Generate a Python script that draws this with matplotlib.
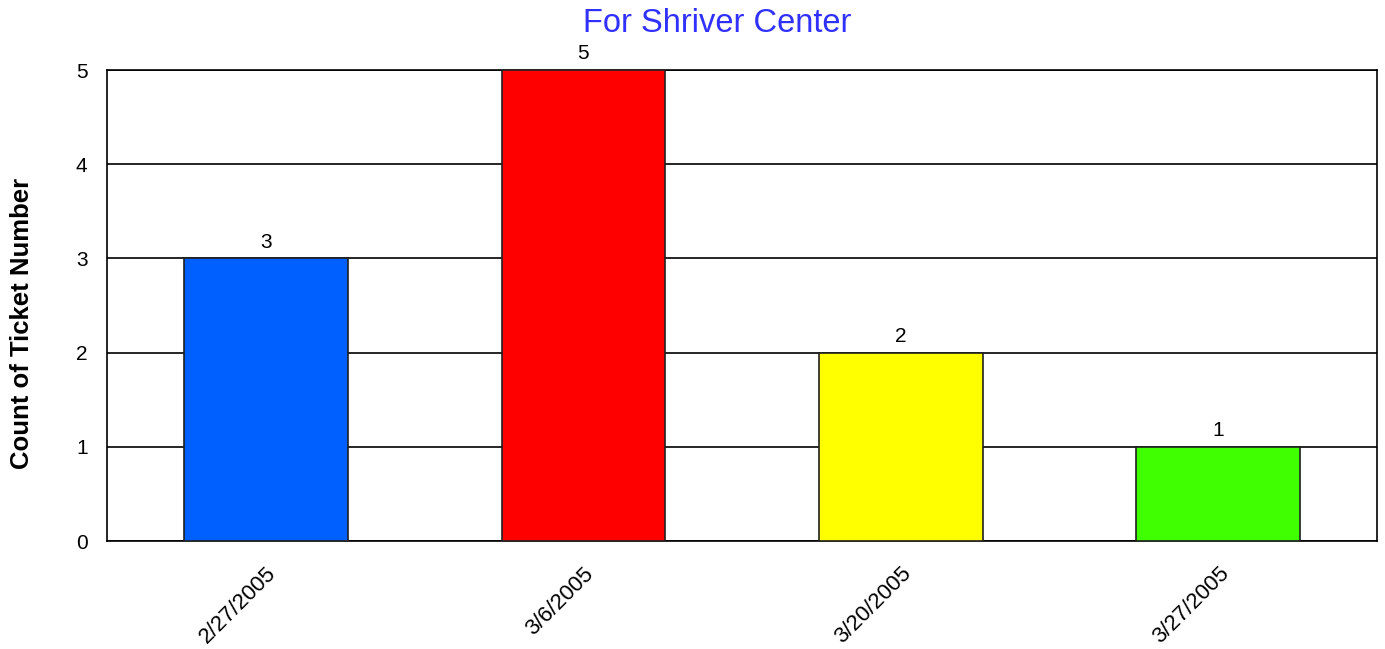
import matplotlib
matplotlib.use("Agg")
import matplotlib.pyplot as plt

# data
dates = ["2/27/2005", "3/6/2005", "3/20/2005", "3/27/2005"]
counts = [3, 5, 2, 1]
colors = ["#0060ff", "#ff0000", "#ffff00", "#40ff00"]

plt.rcParams["font.family"] = ["Liberation Sans", "DejaVu Sans"]

fig = plt.figure(figsize=(13.85, 6.49), dpi=100)
ax = fig.add_axes([0.0773, 0.1664, 0.9169, 0.7257])

x = range(len(dates))
bars = ax.bar(x, counts, width=0.515, color=colors, edgecolor="#202020", linewidth=1.2, zorder=3)

for b, v in zip(bars, counts):
    ax.text(b.get_x() + b.get_width() / 2, v + 0.07, str(v), ha="center", va="bottom", fontsize=15)

ax.set_xlim(-0.5, len(dates) - 0.5)
ax.set_ylim(0, 5)
ax.set_yticks(range(6))
ax.yaxis.grid(True, color="black", linewidth=1.2, zorder=0)
ax.set_axisbelow(True)
ax.tick_params(axis="both", length=0, labelsize=15)
ax.tick_params(axis="y", pad=14)
ax.set_xticks(list(x))
ax.set_xticklabels(dates, rotation=45, ha="right", rotation_mode="anchor")
ax.tick_params(axis="x", pad=16, labelsize=16)
for s in ax.spines.values():
    s.set_linewidth(1.2)

fig.text(0.518, 0.964, "For Shriver Center", color="#3030ff", fontsize=23.5, ha="center", va="center")
fig.text(0.016, 0.502, "Count of Ticket Number", fontsize=18.5, fontweight="bold",
         rotation=90, ha="center", va="center")

fig.savefig("out.png", dpi=100)
